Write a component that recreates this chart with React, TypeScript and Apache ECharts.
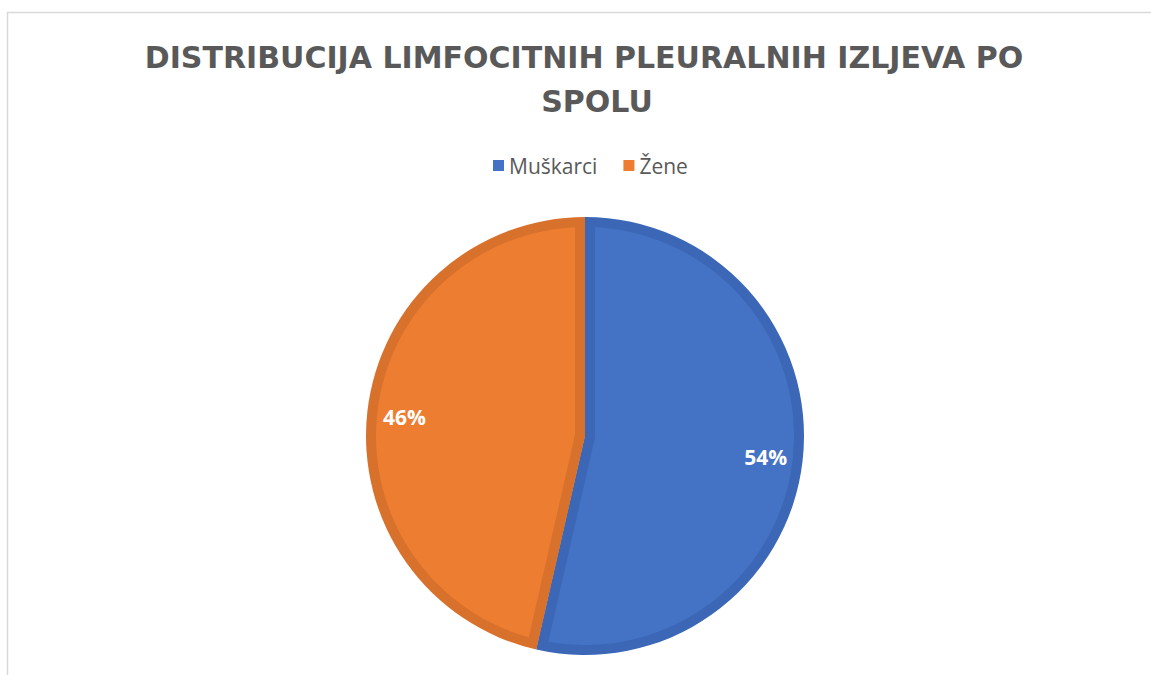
import React, { useEffect, useRef } from "react";
import * as echarts from "echarts";

const TITLE_LINES = ["DISTRIBUCIJA LIMFOCITNIH PLEURALNIH IZLJEVA PO", "SPOLU"];
const CATEGORIES = ["Muškarci", "Žene"];
const VALUES = [15, 13];
const COLORS = ["#4472C4", "#ED7D31"];
const BORDER_COLORS = ["#3B67B6", "#D8712C"];

const CX = 585;
const CY = 436;
const R = 219;
const INSET = 10;

export default function App() {
  const ref = useRef<HTMLDivElement>(null);

  useEffect(() => {
    if (!ref.current) return;
    const chart = echarts.init(ref.current, null, { renderer: "svg" });
    const total = VALUES.reduce((a, b) => a + b, 0);
    const starts: number[] = [];
    let acc = 0;
    VALUES.forEach((v) => {
      starts.push(acc);
      acc += v;
    });

    const renderItem = (params: any, api: any) => {
      const i = params.dataIndex;
      const v = api.value(1);
      const a0 = -Math.PI / 2 + (starts[i] / total) * Math.PI * 2;
      const a1 = a0 + (v / total) * Math.PI * 2;
      const theta = a1 - a0;
      const b = (a0 + a1) / 2;
      const apexD = INSET / Math.sin(theta / 2);
      const apex = [CX + Math.cos(b) * apexD, CY + Math.sin(b) * apexD];
      const Ri = R - INSET;
      const da = Math.asin(INSET / Ri);
      const pts: number[][] = [apex];
      const N = 120;
      for (let k = 0; k <= N; k++) {
        const a = a0 + da + ((a1 - da - (a0 + da)) * k) / N;
        pts.push([CX + Math.cos(a) * Ri, CY + Math.sin(a) * Ri]);
      }
      const pct = Math.round((v / total) * 100) + "%";
      const lr = R * 0.83;
      return {
        type: "group",
        children: [
          {
            type: "sector",
            shape: { cx: CX, cy: CY, r: R, r0: 0, startAngle: a0, endAngle: a1, clockwise: true },
            style: { fill: BORDER_COLORS[i] },
          },
          {
            type: "polygon",
            shape: { points: pts },
            style: { fill: COLORS[i] },
          },
          {
            type: "text",
            x: CX + Math.cos(b) * lr,
            y: CY + Math.sin(b) * lr + 1,
            style: {
              text: pct,
              fill: "#ffffff",
              font: "bold 21px 'Open Sans'",
              align: "center",
              verticalAlign: "middle",
            },
          },
        ],
      };
    };

    chart.setOption({
      animation: false,
      backgroundColor: "#ffffff",
      legend: {
        left: 488,
        top: 150,
        icon: "rect",
        itemWidth: 11,
        itemHeight: 11,
        itemGap: 26,
        data: CATEGORIES,
        textStyle: { fontFamily: "Open Sans", fontSize: 21, color: "#595959" },
      },
      graphic: [
        {
          type: "line",
          shape: { x1: 7.5, y1: 12, x2: 7.5, y2: 675 },
          style: { stroke: "#d9d9d9", lineWidth: 1.5 },
        },
        {
          type: "line",
          shape: { x1: 7, y1: 12.5, x2: 1151, y2: 12.5 },
          style: { stroke: "#d9d9d9", lineWidth: 1.5 },
        },
        {
          type: "text",
          x: 584,
          y: 57,
          style: {
            text: TITLE_LINES[0],
            fill: "#595959",
            font: "bold 30px 'DejaVu Sans'",
            align: "center",
            verticalAlign: "middle",
          },
        },
        {
          type: "text",
          x: 597,
          y: 101,
          style: {
            text: TITLE_LINES[1],
            fill: "#595959",
            font: "bold 30px 'DejaVu Sans'",
            align: "center",
            verticalAlign: "middle",
          },
        },
      ],
      series: [
        {
          type: "pie",
          center: [CX, CY],
          radius: R - 1,
          startAngle: 90,
          clockwise: true,
          silent: true,
          z: 1,
          label: { show: false },
          labelLine: { show: false },
          data: CATEGORIES.map((name, i) => ({
            name,
            value: VALUES[i],
            itemStyle: { color: COLORS[i] },
          })),
        },
        {
          type: "custom",
          coordinateSystem: "none",
          silent: true,
          z: 10,
          renderItem,
          data: VALUES.map((v, i) => ({ name: "s" + i, value: [i, v] })),
        },
      ],
    });
    return () => chart.dispose();
  }, []);

  return (
    <div
      ref={ref}
      style={{ position: "absolute", left: 0, top: 0, width: 1151, height: 675 }}
    />
  );
}
